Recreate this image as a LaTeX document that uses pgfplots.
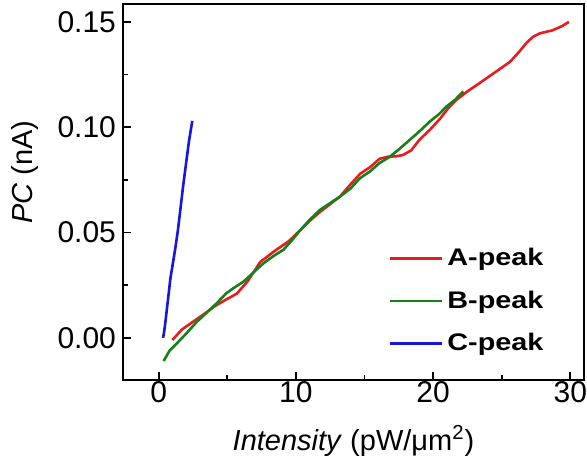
\documentclass[border=0pt]{standalone}
\usepackage{fontspec}
\setmainfont{Liberation Sans}
\newfontfamily\legfont{Liberation Sans}[FakeStretch=1.2]
\usepackage{pgfplots}
\pgfplotsset{compat=1.18}
\definecolor{cA}{RGB}{232,28,30}
\definecolor{cB}{RGB}{24,128,24}
\definecolor{cC}{RGB}{22,22,228}
\begin{document}
\begin{tikzpicture}
\begin{axis}[
  scale only axis, width=230.5pt, height=188pt,
  xmin=-2.6, xmax=31, ymin=-0.02, ymax=0.1585,
  axis line style={line width=0.9pt},
  every tick/.style={line width=0.9pt, black},
  tick align=inside,
  xtick={0,10,20,30}, minor xtick={5,15,25},
  ytick={0,0.05,0.10,0.15}, minor ytick={0.025,0.075,0.125},
  xtick pos=bottom, ytick pos=left,
  major tick length=4pt, minor tick length=2.5pt,
  tick label style={font=\fontsize{15}{17}\selectfont},
  xticklabel style={yshift=3pt},
  scaled y ticks=false,
  yticklabel style={/pgf/number format/fixed,/pgf/number format/precision=2,/pgf/number format/fixed zerofill},
  /pgf/number format/assume math mode=true,
  xlabel={\textit{Intensity} (pW/μm\textsuperscript{2})},
  ylabel={\textit{PC} (nA)},
  label style={font=\fontsize{14.5}{17}\selectfont},
  xlabel style={at={(rel axis cs:0.5,0)}, anchor=base, yshift=-35pt},
  ylabel style={at={(rel axis cs:-0.2126,0.553)}, anchor=center},
  legend style={draw=none, fill=none, at={(rel axis cs:0.575,0.21)}, anchor=west,
    font=\legfont\bfseries\fontsize{12}{14}\selectfont, row sep=7pt, inner xsep=0pt, inner ysep=0pt},
  legend cell align=left,
  legend image code/.code={\draw[#1] (0cm,0cm) -- (0.92cm,0cm);},
]
\addplot[cA, line width=1.3pt] coordinates {
(1.0,-0.001) (1.7,0.004) (2.8,0.009) (3.5,0.0122) (4.2,0.0155) (5.0,0.0185) (5.7,0.021)
(6.5,0.027) (7.4,0.036) (8.4,0.041) (9.5,0.046) (10.3,0.051) (11.0,0.0555) (11.8,0.060)
(12.5,0.0635) (13.2,0.067) (14.0,0.073) (14.7,0.078) (15.4,0.081) (16.1,0.085) (16.7,0.086)
(17.3,0.0862) (17.8,0.0868) (18.4,0.089) (19.0,0.094) (19.8,0.099) (20.5,0.104) (21.1,0.109)
(21.7,0.113) (22.5,0.117) (23.4,0.121) (24.5,0.126) (25.6,0.131) (26.3,0.136) (26.8,0.140)
(27.3,0.143) (27.8,0.1446) (28.7,0.146) (29.4,0.148) (29.9,0.150)
};
\addlegendentry{A-peak}
\addplot[cB, line width=1.3pt] coordinates {
(0.36,-0.011) (0.8,-0.006) (1.34,-0.0025) (2.0,0.002) (2.79,0.0077) (3.5,0.012) (4.24,0.0165)
(4.9,0.021) (5.45,0.0236) (6.18,0.0267) (6.9,0.031) (7.64,0.0354) (8.4,0.039) (9.09,0.0418)
(9.8,0.047) (10.3,0.051) (11.0,0.056) (11.76,0.0608) (12.5,0.064) (13.2,0.067) (14.0,0.071)
(14.67,0.0758) (15.4,0.079) (16.1,0.083) (16.85,0.086) (17.6,0.090) (18.3,0.094) (19.0,0.098)
(19.76,0.1027) (20.4,0.106) (20.97,0.1098) (21.6,0.113) (22.2,0.117)
};
\addlegendentry{B-peak}
\addplot[cC, line width=1.3pt] coordinates {
(0.32,0.0) (0.40,0.003) (0.50,0.008) (0.62,0.015) (0.73,0.021) (0.85,0.028) (1.0,0.034)
(1.2,0.042) (1.4,0.051) (1.6,0.062) (1.8,0.073) (2.0,0.083) (2.2,0.093) (2.45,0.103)
};
\addlegendentry{C-peak}
\coordinate (bl) at (rel axis cs:0,0);
\coordinate (tr) at (rel axis cs:1,1);
\end{axis}
\pgfresetboundingbox
\path[use as bounding box] ([xshift=-61.5pt,yshift=-40pt]bl) rectangle ([xshift=1.5pt,yshift=2pt]tr);
\end{tikzpicture}
\end{document}
